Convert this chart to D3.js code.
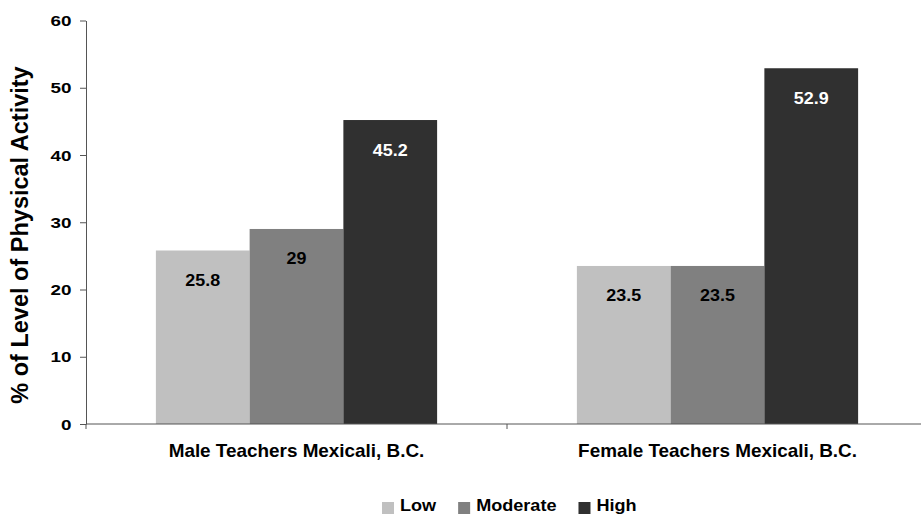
<!DOCTYPE html>
<html>
<head>
<meta charset="utf-8">
<script src="https://cdn.jsdelivr.net/npm/d3@7"></script>
<style>
  body { margin: 0; background: #fff; }
  text { font-family: "Liberation Sans", Arial, sans-serif; font-weight: bold; }
</style>
</head>
<body>
<svg id="chart"></svg>
<script>
const categories = ["Male Teachers Mexicali, B.C.", "Female Teachers Mexicali, B.C."];
const series = ["Low", "Moderate", "High"];
const low = [25.8, 23.5];
const moderate = [29, 23.5];
const high = [45.2, 52.9];
const yTicks = [0, 10, 20, 30, 40, 50, 60];

const colors = {Low: "#c0c0c0", Moderate: "#808080", High: "#303030"};
const labelColors = {Low: "#000", Moderate: "#000", High: "#fff"};

const width = 921;
const height = 516;

const svg = d3.select("#chart")
    .attr("width", width)
    .attr("height", height)
    .attr("viewBox", [0, 0, width, height]);

const values = {Low: low, Moderate: moderate, High: high};
const rows = [];
categories.forEach((c, i) => {
    series.forEach(s => rows.push({cat: c, key: s, value: values[s][i]}));
});

const x0 = d3.scaleBand(categories, [86, 928]);
const x1 = d3.scaleBand(series, [x0.bandwidth() * 0.166, x0.bandwidth() * 0.834]);
const y = d3.scaleLinear([0, 60], [424, 20.5]);

// bars
svg.append("g")
    .selectAll("rect")
    .data(rows)
    .join("rect")
    .attr("x", d => x0(d.cat) + x1(d.key))
    .attr("y", d => y(d.value))
    .attr("width", x1.bandwidth())
    .attr("height", d => y(0) - y(d.value))
    .attr("fill", d => colors[d.key]);

// value labels
svg.append("g")
    .selectAll("text")
    .data(rows)
    .join("text")
    .attr("transform", d => `translate(${x0(d.cat) + x1(d.key) + x1.bandwidth() / 2},${y(d.value) + 35.5}) scale(1.12,1)`)
    .attr("text-anchor", "middle")
    .attr("font-size", 16)
    .attr("fill", d => labelColors[d.key])
    .text(d => d.value);

// y axis
const yAxis = svg.append("g")
    .attr("transform", "translate(86,0)")
    .call(d3.axisLeft(y).tickValues(yTicks).tickSize(6).tickPadding(8).tickSizeOuter(0));
yAxis.select(".domain").attr("stroke", "#555");
yAxis.selectAll(".tick line").attr("stroke", "#555");
yAxis.selectAll(".tick text")
    .attr("font-size", 14.5)
    .attr("fill", "#000")
    .attr("font-family", null)
    .attr("transform", "scale(1.3,1)")
    .attr("x", -14.5 / 1.3)
    .attr("dy", "0.36em");

// x axis line with category separators
svg.append("line")
    .attr("x1", 86).attr("x2", width)
    .attr("y1", y(0)).attr("y2", y(0))
    .attr("stroke", "#555");
svg.append("g")
    .selectAll("line")
    .data(categories)
    .join("line")
    .attr("x1", d => x0(d)).attr("x2", d => x0(d))
    .attr("y1", y(0)).attr("y2", y(0) + 5)
    .attr("stroke", "#555");

// category labels
svg.append("g")
    .selectAll("text")
    .data(categories)
    .join("text")
    .attr("transform", d => `translate(${x0(d) + x0.bandwidth() / 2},457) scale(1.05,1)`)
    .attr("text-anchor", "middle")
    .attr("font-size", 18)
    .text(d => d);

// y title
svg.append("text")
    .attr("transform", "translate(28,235) rotate(-90)")
    .attr("text-anchor", "middle")
    .attr("font-size", 23.5)
    .text("% of Level of Physical Activity");

// legend
const legend = svg.append("g").attr("transform", "translate(382,0)");
let lx = 0;
series.forEach(s => {
    const item = legend.append("g").attr("transform", `translate(${lx},0)`);
    item.append("rect")
        .attr("x", 0).attr("y", 502)
        .attr("width", 12).attr("height", 12)
        .attr("fill", colors[s]);
    const t = item.append("text")
        .attr("transform", "translate(18,511) scale(1.13,1)")
        .attr("font-size", 16)
        .text(s);
    lx += 18 + t.node().getComputedTextLength() * 1.13 + 22;
});
</script>
</body>
</html>
